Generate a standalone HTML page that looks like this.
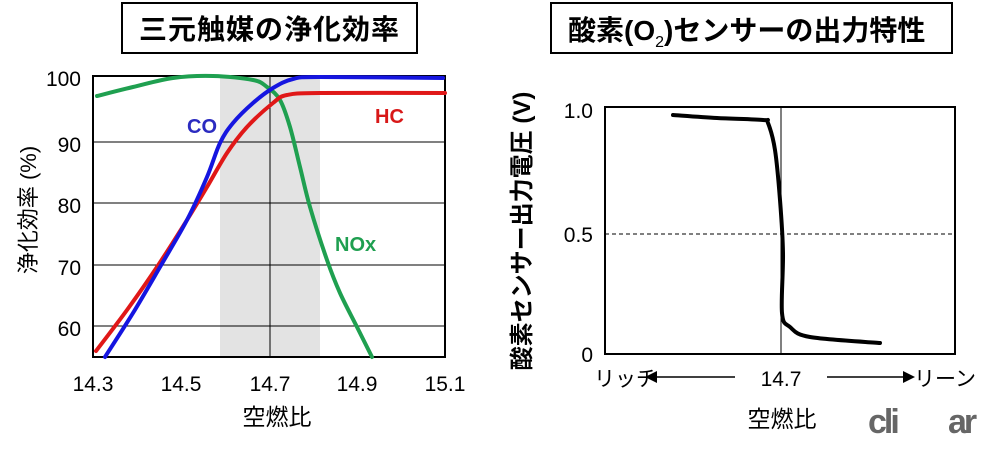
<!DOCTYPE html>
<html><head><meta charset="utf-8"><style>
body{margin:0;background:#fff}
svg text{font-family:"Liberation Sans","Noto Sans CJK JP",sans-serif}
</style></head><body>
<svg width="993" height="448" viewBox="0 0 993 448" xmlns="http://www.w3.org/2000/svg">
<rect x="0" y="0" width="993" height="448" fill="#fff"/>
<rect x="122" y="3" width="295" height="50" fill="#fff" stroke="#000" stroke-width="2"/>
<text x="269.5" y="39" font-size="28" font-weight="bold" text-anchor="middle" letter-spacing="1">三元触媒の浄化効率</text>
<rect x="220" y="76" width="100" height="281" fill="#e3e3e3"/>
<g stroke="#000" stroke-width="1">
<line x1="93" y1="142" x2="445" y2="142"/>
<line x1="93" y1="203" x2="445" y2="203"/>
<line x1="93" y1="265" x2="445" y2="265"/>
<line x1="93" y1="326" x2="445" y2="326"/>
<line x1="270" y1="76" x2="270" y2="357"/>
</g>
<rect x="93" y="76" width="352" height="281" fill="none" stroke="#000" stroke-width="2"/>
<g fill="none" stroke-width="4" stroke-linejoin="round" stroke-linecap="round">
<path class="sm" stroke="#1fa050" data-p="97,96 133,87 173,78 213,76 253,80 267,87 280,100 290,127 300,167 310,207 327,260 340,293 357,327 372,357"/>
<path class="sm" stroke="#e01818" data-p="96,351 127,310 157,267 187,220 207,187 227,153 247,127 273,103 287,95 320,93 445,93"/>
<path class="sm" stroke="#1515e0" data-p="105,357 133,313 160,267 187,220 207,177 220,143 233,123 253,103 273,88 293,79 320,77 443,78"/>
</g>
<g font-size="20" font-weight="bold">
<text x="187" y="133" fill="#2b2bc0">CO</text>
<text x="375" y="123" fill="#d81818">HC</text>
<text x="335" y="251" fill="#1f9f50">NOx</text>
</g>
<g font-size="21" text-anchor="end">
<text x="81" y="86">100</text>
<text x="81" y="152">90</text>
<text x="81" y="213">80</text>
<text x="81" y="275">70</text>
<text x="81" y="336">60</text>
</g>
<g font-size="21" text-anchor="middle">
<text x="93" y="391">14.3</text>
<text x="181" y="391">14.5</text>
<text x="270" y="391">14.7</text>
<text x="357" y="391">14.9</text>
<text x="445" y="391">15.1</text>
</g>
<text x="277" y="425" font-size="23" text-anchor="middle">空燃比</text>
<text transform="translate(36,210) rotate(-90)" font-size="22" text-anchor="middle">浄化効率 (%)</text>
<rect x="551" y="3" width="401" height="50" fill="#fff" stroke="#000" stroke-width="2"/>
<text x="568" y="40" font-size="28" font-weight="bold">酸素(O<tspan font-size="16" font-weight="normal" dy="7">2</tspan><tspan dy="-7">)センサーの出力特性</tspan></text>
<line x1="605" y1="234" x2="955" y2="234" stroke="#000" stroke-width="1" stroke-dasharray="4,3"/>
<line x1="781" y1="107" x2="781" y2="354" stroke="#000" stroke-width="1"/>
<rect x="605" y="107" width="350" height="247" fill="none" stroke="#000" stroke-width="2"/>
<path class="sm" fill="none" stroke="#000" stroke-width="4" stroke-linejoin="round" stroke-linecap="round" data-p="673,115 717,118 763,120 768,123 775,150 780,200 783,253 782,313 790,327 810,337 880,343"/>
<g font-size="21" text-anchor="end">
<text x="593" y="118">1.0</text>
<text x="593" y="242">0.5</text>
<text x="593" y="362">0</text>
</g>
<text x="530" y="231" font-size="24" font-weight="bold" text-anchor="middle" transform="rotate(-90 530 231)">酸素センサー出力電圧 (V)</text>
<g font-size="21">
<text x="594" y="386">リッチ</text>
<text x="781" y="386" text-anchor="middle">14.7</text>
<text x="914" y="386">リーン</text>
</g>
<line x1="655" y1="377" x2="735" y2="377" stroke="#000" stroke-width="1.5"/>
<polygon points="645,377 657,371 657,383" fill="#000"/>
<line x1="827" y1="377" x2="905" y2="377" stroke="#000" stroke-width="1.5"/>
<polygon points="915,377 903,371 903,383" fill="#000"/>
<text x="782" y="427" font-size="23" text-anchor="middle">空燃比</text>
<text x="868" y="433" font-size="34" font-weight="bold" fill="#666" letter-spacing="-3">cli</text>
<text x="948" y="433" font-size="34" font-weight="bold" fill="#666" letter-spacing="-3">ar</text>
</svg>
<script>
document.querySelectorAll('path.sm').forEach(function(el){
var p=el.getAttribute('data-p').trim().split(/\s+/).map(function(s){return s.split(',').map(Number);});
var d='M'+p[0][0]+','+p[0][1];
for(var i=0;i<p.length-1;i++){
var p0=p[i-1]||p[i],p1=p[i],p2=p[i+1],p3=p[i+2]||p2;
var c1=[p1[0]+(p2[0]-p0[0])/6,p1[1]+(p2[1]-p0[1])/6];
var c2=[p2[0]-(p3[0]-p1[0])/6,p2[1]-(p3[1]-p1[1])/6];
d+=' C'+c1[0]+','+c1[1]+' '+c2[0]+','+c2[1]+' '+p2[0]+','+p2[1];
}
el.setAttribute('d',d);
});
</script>
</body></html>
